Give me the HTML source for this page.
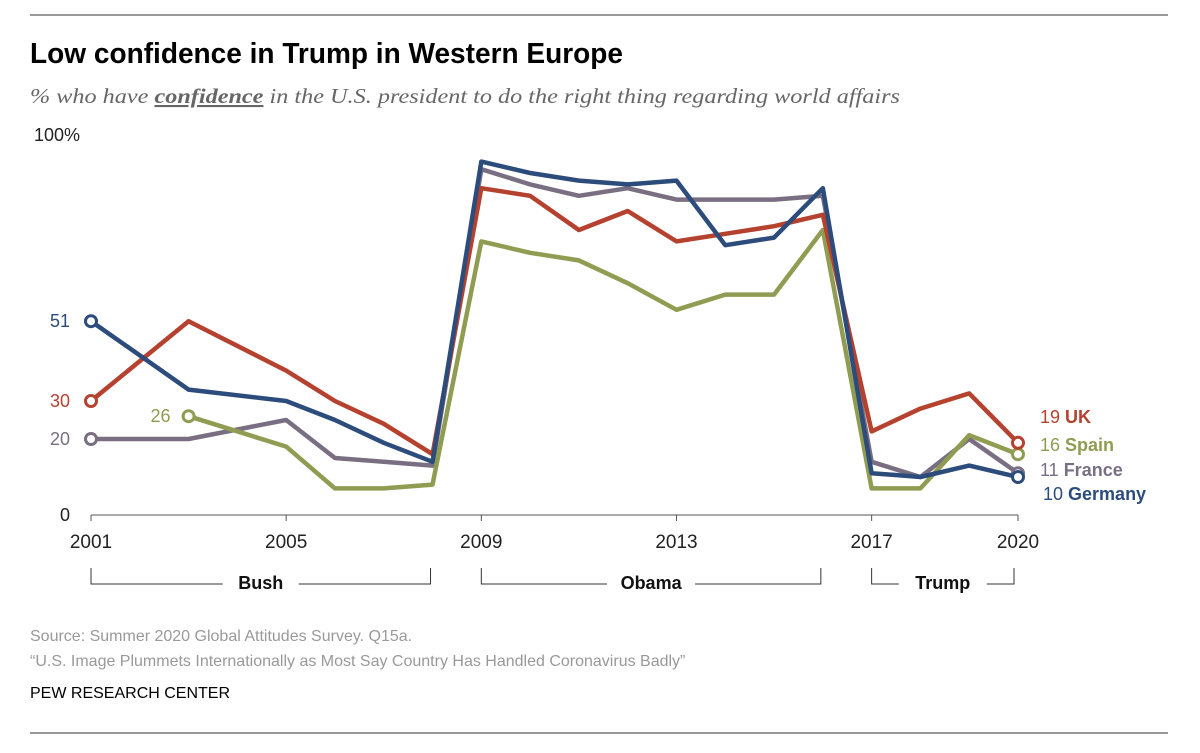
<!DOCTYPE html>
<html><head><meta charset="utf-8"><style>
body{margin:0;background:#fff;width:1200px;height:748px;overflow:hidden;font-family:"Liberation Sans",sans-serif}
</style></head><body>
<svg id="chart" width="1200" height="748" xmlns="http://www.w3.org/2000/svg">
<line x1="30" y1="15" x2="1168" y2="15" stroke="#333" stroke-width="1"/>
<line x1="30" y1="733" x2="1168" y2="733" stroke="#333" stroke-width="1"/>
<text x="30" y="63" font-weight="bold" font-size="29" fill="#000" textLength="593" lengthAdjust="spacingAndGlyphs">Low confidence in Trump in Western Europe</text>
<text x="30" y="103" font-family="'Liberation Serif',serif" font-style="italic" font-size="21" fill="#666" textLength="870" lengthAdjust="spacingAndGlyphs">% who have <tspan font-weight="bold" text-decoration="underline">confidence</tspan> in the U.S. president to do the right thing regarding world affairs</text>
<g id="axes"></g>
<g id="lines"></g>
<g id="labels"></g>
<text x="30" y="641" font-size="16" fill="#999">Source: Summer 2020 Global Attitudes Survey. Q15a.</text>
<text x="30" y="666" font-size="16" fill="#999">“U.S. Image Plummets Internationally as Most Say Country Has Handled Coronavirus Badly”</text>
<text x="30" y="698" font-size="16" fill="#000">PEW RESEARCH CENTER</text>
</svg>
<script>
const years=[2001,2003,2005,2006,2007,2008,2009,2010,2011,2012,2013,2014,2015,2016,2017,2018,2019,2020];
const ukValues=[30,51,38,30,24,16,86,84,75,80,72,74,76,79,22,28,32,19];
const germanyValues=[51,33,30,25,19,14,93,90,88,87,88,71,73,86,11,10,13,10];
const franceValues=[20,20,25,15,14,13,91,87,84,86,83,83,83,84,14,10,20,11];
const spainYears=[2003,2005,2006,2007,2008,2009,2010,2011,2012,2013,2014,2015,2016,2017,2018,2019,2020];
const spainValues=[26,18,7,7,8,72,69,67,61,54,58,58,75,7,7,21,16];
const xTicks=[2001,2005,2009,2013,2017,2020];
const yTickLabels=["0","20","30","51","100%"];
const yTickValues=[0,20,30,51,100];
const NS="http://www.w3.org/2000/svg";
const x=y=>91+(y-2001)*(1018-91)/19;
const yS=v=>515-v*3.8;
function mk(tag,attrs,parent,text){const e=document.createElementNS(NS,tag);for(const k in attrs)e.setAttribute(k,attrs[k]);if(text!==undefined)e.textContent=text;parent.appendChild(e);return e;}
const axes=document.getElementById('axes'),lines=document.getElementById('lines'),labels=document.getElementById('labels');
let a=mk('line',{x1:x(2001),x2:x(2020),y1:yS(0),y2:yS(0),stroke:'#555','stroke-width':1},axes);


xTicks.forEach(t=>{
 let l=mk('line',{x1:x(t),x2:x(t),y1:yS(0),y2:yS(0)+6,stroke:'#555'},axes);
 
 
 let tx=mk('text',{x:x(t),y:548,'text-anchor':'middle','font-size':19,fill:'#222'},axes,String(t));
 
 
});
const yColors=['#222','#7a6f82','#b5412f','#2c4c7c','#222'];
yTickLabels.forEach((lab,i)=>{
 const v=yTickValues[i];
 let t=mk('text',{x:v===100?34:70,y:yS(v)+6,'text-anchor':v===100?'start':'end','font-size':18,fill:yColors[i]},axes,lab);
 
 
});
const series=[
 {name:'france',yrs:years,vals:franceValues,c:'#7a6f82'},
 {name:'spain',yrs:spainYears,vals:spainValues,c:'#8f9c52'},
 {name:'uk',yrs:years,vals:ukValues,c:'#b5412f'},
 {name:'germany',yrs:years,vals:germanyValues,c:'#2c4c7c'}];
series.forEach(s=>{
 const pts=s.yrs.map((yr,i)=>x(yr)+','+yS(s.vals[i])).join(' ');
 let p=mk('polyline',{points:pts,fill:'none',stroke:s.c,'stroke-width':4.5,'stroke-linejoin':'round'},lines);
 
 
 [0,s.vals.length-1].forEach(i=>{
  let c=mk('circle',{cx:x(s.yrs[i]),cy:yS(s.vals[i]),r:5.5,fill:'#fff',stroke:s.c,'stroke-width':3},lines);
  
  
 });
});
let sl=mk('text',{x:x(2003)-18,y:yS(26)+6,'text-anchor':'end','font-size':18,fill:'#8f9c52'},labels,String(spainValues[0]));


const endLab=[['uk','UK',ukValues,'#b5412f',423],['spain','Spain',spainValues,'#8f9c52',451],['france','France',franceValues,'#7a6f82',476],['germany','Germany',germanyValues,'#2c4c7c',500]];
endLab.forEach(e=>{
 let t=mk('text',{x:e[0]==='germany'?1043:1040,y:e[4],'font-size':18,fill:e[3]},labels);
 
 
 mk('tspan',{},t,e[2][e[2].length-1]+' ');
 mk('tspan',{'font-weight':'bold'},t,e[1]);
});
[['bush',2001,2008,'Bush'],['obama',2009,2016,'Obama'],['trump',2017,2020,'Trump']].forEach(b=>{
 const x1=x(b[1]),x2=x(b[2])-(b[0]==='trump'?4:2),mid=(x1+x2)/2,w=b[3].length*6+14;
 let g=mk('path',{d:`M${x1} 568 V584 H${mid-w} M${mid+w} 584 H${x2} V568`,fill:'none',stroke:'#333','stroke-width':1},labels);
 
 
 let t=mk('text',{x:mid,y:589,'text-anchor':'middle','font-size':18,'font-weight':'bold',fill:'#111'},labels,b[3]);
 
 
});
</script>
</body></html>
